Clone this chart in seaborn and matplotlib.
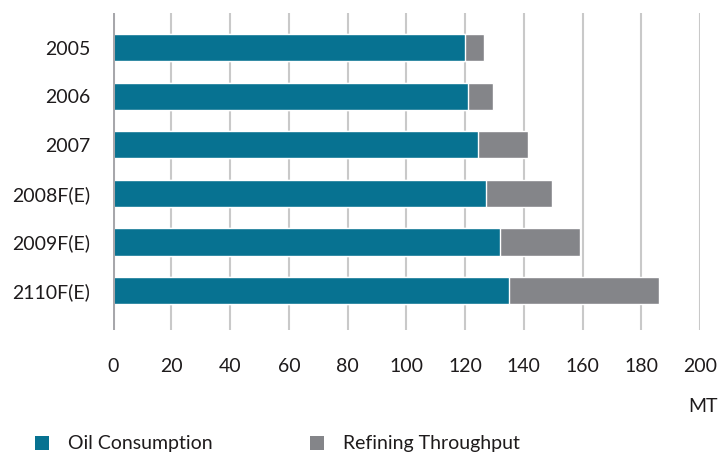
import matplotlib
matplotlib.use("Agg")
import matplotlib.pyplot as plt
import seaborn as sns
import pandas as pd
from matplotlib.patches import Patch

years = ["2005", "2006", "2007", "2008F(E)", "2009F(E)", "2110F(E)"]
oil_consumption = [120, 121, 124.5, 127, 132, 135]
refining_throughput = [126.5, 129.5, 141.5, 149.5, 159, 186]
x_ticks = [0, 20, 40, 60, 80, 100, 120, 140, 160, 180, 200]

teal = "#077291"
gray = "#848589"
text_color = "#1e1b1c"

sns.set_theme(style="white")
plt.rcParams["font.family"] = ["Lato", "DejaVu Sans"]

df = pd.DataFrame({"year": years, "oil": oil_consumption, "ref": refining_throughput})

fig = plt.figure(figsize=(7.24, 4.58), dpi=100)
ax = fig.add_axes([0.1557, 0.2795, 0.9669 - 0.1557, 0.9716 - 0.2795])

sns.barplot(data=df, x="ref", y="year", color=gray, orient="h", width=0.556,
            saturation=1, ax=ax, zorder=3)
sns.barplot(data=df, x="oil", y="year", color=teal, orient="h", width=0.556,
            saturation=1, ax=ax, zorder=4)

ax.set_xlim(0, 200)
ax.set_ylim(5.81, -0.71)
ax.set_xticks(x_ticks)
ax.set_xticklabels([str(t) for t in x_ticks])
for t in x_ticks:
    if t == 0:
        ax.axvline(t, color="#a7a7ab", lw=2.2, zorder=5)
    else:
        ax.axvline(t, color="#c9c9c9", lw=1.5, zorder=1)

for s in ax.spines.values():
    s.set_visible(False)
ax.tick_params(axis="x", length=0, pad=20, labelsize=14, labelcolor=text_color)
ax.tick_params(axis="y", length=0, pad=16, labelsize=14, labelcolor=text_color)
ax.set_xlabel("")
ax.set_ylabel("")

fig.text(718 / 724, 1 - 406 / 458, "MT", ha="right", va="center",
         fontsize=14, color=text_color)

handles = [Patch(facecolor=teal, edgecolor="none", label="Oil Consumption"),
           Patch(facecolor=gray, edgecolor="none", label="Refining Throughput")]
leg = fig.legend(handles=handles, loc="center left",
                 bbox_to_anchor=(35 / 724, 1 - 444 / 458), ncol=2, frameon=False,
                 fontsize=14, handlelength=0.7, handleheight=0.7,
                 handletextpad=1.0, columnspacing=5.0, borderaxespad=0, borderpad=0)
for t in leg.get_texts():
    t.set_color(text_color)

fig.savefig("out.png", dpi=100)
